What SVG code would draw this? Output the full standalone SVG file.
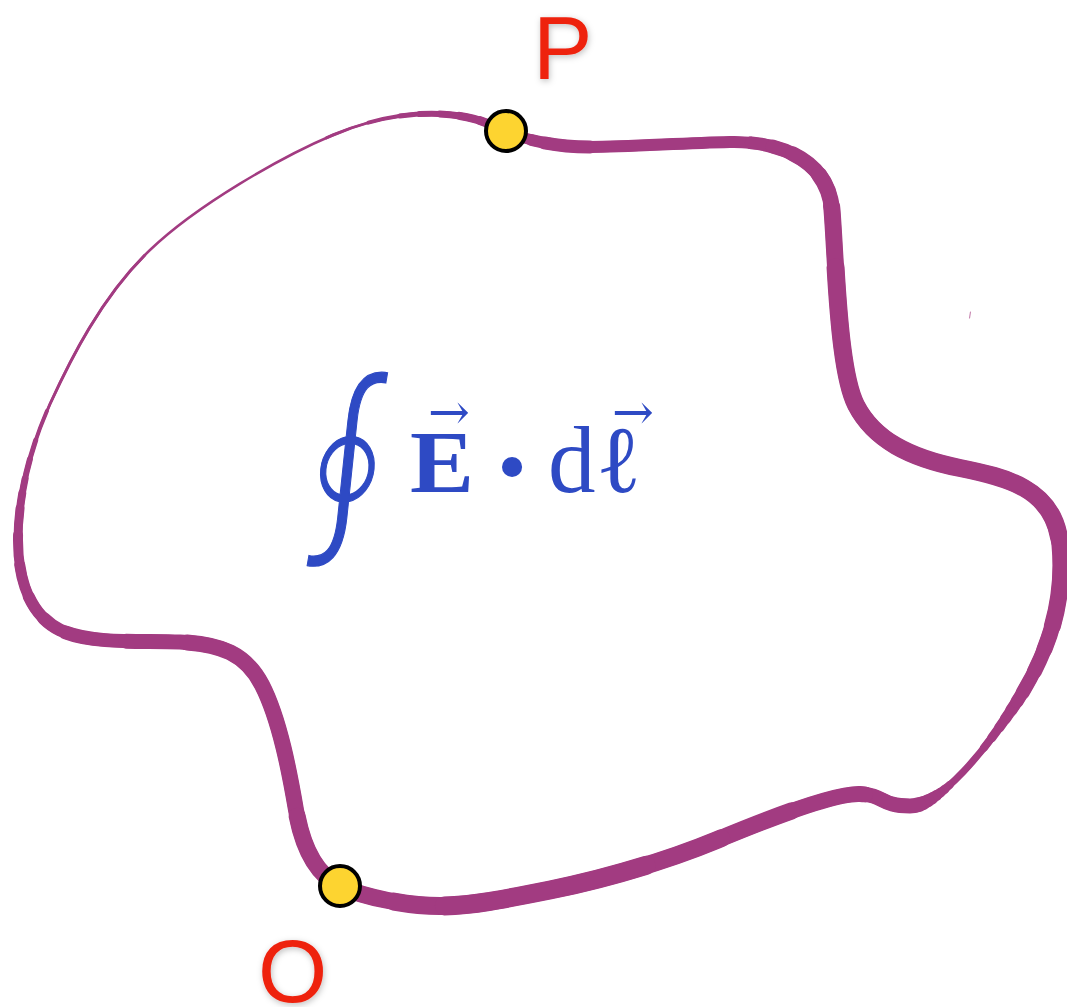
<svg xmlns="http://www.w3.org/2000/svg" width="1067" height="1007" viewBox="0 0 1067 1007">
<style>
.band{fill:none;stroke:#A23B81;stroke-linecap:round;stroke-linejoin:round}
.pt{fill:#FDD430;stroke:#000;stroke-width:4}
.lbl{font-family:"Liberation Sans",Arial,sans-serif;font-size:89px;fill:#EE2211}
.fm{fill:#2E4AC4}
.serif{font-family:"Liberation Serif","DejaVu Serif",serif}
.arr{font-family:"DejaVu Serif","Liberation Serif",serif;font-size:50px}
.int{font-family:"Noto Sans CJK JP","Noto Sans CJK SC","DejaVu Sans",sans-serif;font-weight:300;stroke:#2E4AC4;stroke-width:1.2}
</style>
<defs>
<filter id="sh" x="-30%" y="-30%" width="160%" height="160%">
<feDropShadow dx="1" dy="2" stdDeviation="3" flood-color="#000" flood-opacity="0.25"/>
</filter>
<path id="c" d="M506,132 C526,139 550,147 590,147 S680,143 730,142 C780,141 828,160 832,210 S838,370 856,405 S910,458 960,468 S1055,490 1060,545 S1050,650 1018,700 S940,806 910,806 S885,795 860,794 S770,818 717,840 S600,880 550,890 S470,906 440,906 S365,898 340,886 S302,845 296,810 S280,720 262,685 S215,644 180,642 S90,645 60,630 S18,580 18,540 C18,502 28,452 50,404 S103,295 150,250 S281,157 333,135 C385,113 431,111 460,116 S496,128 506,132 Z"/>
</defs>
<rect width="1067" height="1007" fill="#fff"/>
<g id="loop" class="band">
<use href="#c" stroke-width="2.5"/>
<use href="#c" stroke-width="3" stroke-dasharray="2775 217" stroke-dashoffset="-2813"/>
<use href="#c" stroke-width="4" stroke-dasharray="2545 447" stroke-dashoffset="-2858"/>
<use href="#c" stroke-width="5" stroke-dasharray="2482 510" stroke-dashoffset="-2890"/>
<use href="#c" stroke-width="6" stroke-dasharray="2442 550" stroke-dashoffset="-2910"/>
<use href="#c" stroke-width="7" stroke-dasharray="2402 590" stroke-dashoffset="-2930"/>
<use href="#c" stroke-width="8" stroke-dasharray="1087.3 50.7 1229 625" stroke-dashoffset="-2950"/>
<use href="#c" stroke-width="9" stroke-dasharray="1054 69.3 1208 660.7" stroke-dashoffset="-2970.7"/>
<use href="#c" stroke-width="10" stroke-dasharray="1020 88 1175.3 708.7"/>
<use href="#c" stroke-width="11" stroke-dasharray="996.2 103.5 1140.3 752" stroke-dashoffset="-13.3"/>
<use href="#c" stroke-width="12" stroke-dasharray="972.3 119 1102 798.7" stroke-dashoffset="-26.7"/>
<use href="#c" stroke-width="13" stroke-dasharray="46 161.3 741.2 134.5 1070.5 838.5" stroke-dashoffset="-40"/>
<use href="#c" stroke-width="14" stroke-dasharray="709.3 150 1039 1093.7" stroke-dashoffset="-268.7"/>
<use href="#c" stroke-width="15" stroke-dasharray="663.7 179.3 973 1176" stroke-dashoffset="-290"/>
<use href="#c" stroke-width="16" stroke-dasharray="605.3 259.7 856 1271" stroke-dashoffset="-324"/>
<use href="#c" stroke-width="17" stroke-dasharray="547 359.5 553.5 1532" stroke-dashoffset="-358"/>
<use href="#c" stroke-width="18" stroke-dasharray="395 525 337 1735" stroke-dashoffset="-420"/>
<use href="#c" stroke-width="19" stroke-dasharray="206 2786" stroke-dashoffset="-1420"/>
<path d="M970.5,312 L969.5,318" stroke="#C98AB3" stroke-width="1.2"/>
</g>
<g id="point-P">
<circle class="pt" cx="506" cy="131" r="20"/>
<text class="lbl" x="533" y="79" filter="url(#sh)">P</text>
</g>
<g id="point-O">
<circle class="pt" cx="340" cy="886" r="20"/>
<text class="lbl" x="258" y="1002" filter="url(#sh)">O</text>
</g>
<g id="formula" class="fm">
<text class="int" transform="translate(339,549) skewX(-6) scale(0.85,1.05)" font-size="200" text-anchor="middle">∮</text>
<text class="serif" x="410" y="492" font-size="88" font-weight="bold" textLength="64" lengthAdjust="spacingAndGlyphs">E</text>
<text class="arr" x="428" y="429">→</text>
<text class="serif" x="512" y="523" font-size="170" text-anchor="middle">·</text>
<text class="serif" x="548" y="492" font-size="95">d</text>
<text class="serif" x="596" y="492" font-size="95">ℓ</text>
<text class="arr" x="612" y="429">→</text>
</g>
</svg>
